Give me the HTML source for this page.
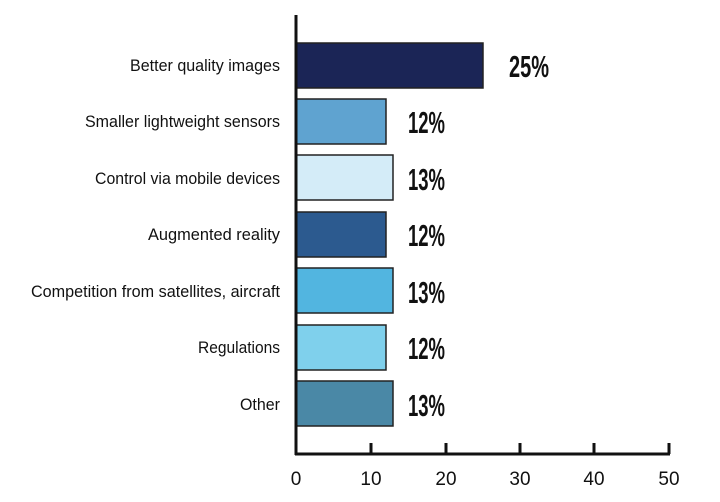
<!DOCTYPE html>
<html><head><style>body{margin:0;background:#fff}svg{display:block}</style></head><body>
<svg width="720" height="502" xmlns="http://www.w3.org/2000/svg" font-family="Liberation Sans, sans-serif">
<g stroke="#222" stroke-width="1.5">
<rect x="296" y="43" width="187" height="45" fill="#1b2556"/>
<rect x="296" y="99" width="90" height="45" fill="#5fa3d0"/>
<rect x="296" y="155" width="97" height="45" fill="#d4ecf8"/>
<rect x="296" y="212" width="90" height="45" fill="#2c5a8f"/>
<rect x="296" y="268" width="97" height="45" fill="#52b5e0"/>
<rect x="296" y="325" width="90" height="45" fill="#7fd0ec"/>
<rect x="296" y="381" width="97" height="45" fill="#4a88a6"/>
</g>
<g stroke="#111" stroke-width="3" fill="none">
<line x1="296" y1="15" x2="296" y2="455"/>
<line x1="295" y1="454" x2="670" y2="454"/>
<line x1="371" y1="443" x2="371" y2="454"/>
<line x1="446" y1="443" x2="446" y2="454"/>
<line x1="520" y1="443" x2="520" y2="454"/>
<line x1="594" y1="443" x2="594" y2="454"/>
<line x1="669" y1="443" x2="669" y2="454"/>
</g>
<g font-size="19" fill="#111" text-anchor="middle">
<text x="296" y="485">0</text><text x="371" y="485">10</text><text x="446" y="485">20</text>
<text x="520" y="485">30</text><text x="594" y="485">40</text><text x="669" y="485">50</text>
</g>
<g font-size="17" fill="#111" text-anchor="end">
<text x="280" y="71" textLength="150" lengthAdjust="spacingAndGlyphs">Better quality images</text>
<text x="280" y="127" textLength="195" lengthAdjust="spacingAndGlyphs">Smaller lightweight sensors</text>
<text x="280" y="184" textLength="185" lengthAdjust="spacingAndGlyphs">Control via mobile devices</text>
<text x="280" y="240" textLength="132" lengthAdjust="spacingAndGlyphs">Augmented reality</text>
<text x="280" y="297" textLength="249" lengthAdjust="spacingAndGlyphs">Competition from satellites, aircraft</text>
<text x="280" y="353" textLength="82" lengthAdjust="spacingAndGlyphs">Regulations</text>
<text x="280" y="410" textLength="40" lengthAdjust="spacingAndGlyphs">Other</text>
</g>
<g font-size="31" font-weight="bold" fill="#111">
<text x="509" y="77" textLength="40" lengthAdjust="spacingAndGlyphs">25%</text>
<text x="408" y="133" textLength="37" lengthAdjust="spacingAndGlyphs">12%</text>
<text x="408" y="190" textLength="37" lengthAdjust="spacingAndGlyphs">13%</text>
<text x="408" y="246" textLength="37" lengthAdjust="spacingAndGlyphs">12%</text>
<text x="408" y="303" textLength="37" lengthAdjust="spacingAndGlyphs">13%</text>
<text x="408" y="359" textLength="37" lengthAdjust="spacingAndGlyphs">12%</text>
<text x="408" y="416" textLength="37" lengthAdjust="spacingAndGlyphs">13%</text>
</g>
</svg>
</body></html>
